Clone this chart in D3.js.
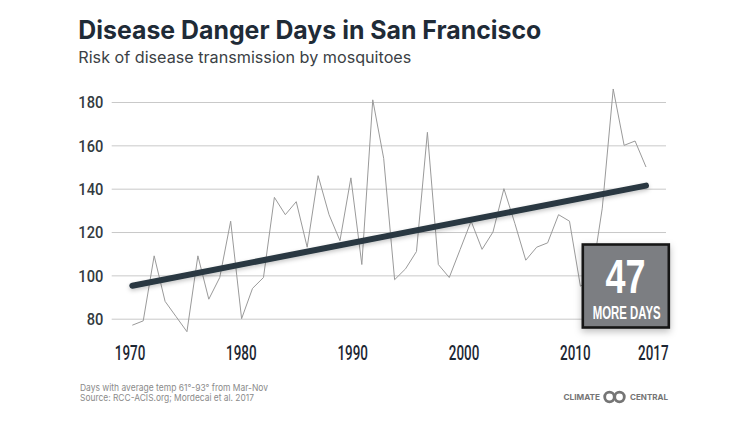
<!DOCTYPE html>
<html>
<head>
<meta charset="utf-8">
<script src="https://cdn.jsdelivr.net/npm/d3@7"></script>
<style>
  html, body { margin: 0; padding: 0; background: #ffffff; }
  svg { display: block; }
</style>
</head>
<body>
<svg id="chart" width="750" height="422"></svg>
<script>
// ---------- DATA ----------
const years = [1970,1971,1972,1973,1974,1975,1976,1977,1978,1979,
               1980,1981,1982,1983,1984,1985,1986,1987,1988,1989,
               1990,1991,1992,1993,1994,1995,1996,1997,1998,1999,
               2000,2001,2002,2003,2004,2005,2006,2007,2008,2009,
               2010,2011,2012,2013,2014,2015,2016,2017];
const dangerDays = [77,79,109,88,81,74,109,89,99,125,
                    80,94,99,136,128,134,113,146,128,116,
                    145,105,181,154,98,103,111,166,105,99,
                    112,125,112,120,140,124,107,113,115,128,
                    125,95,98,131,186,160,162,150];
const trendYears = [1970, 2017];
const trendValues = [95.2, 141.4];
const yTicks = [80, 100, 120, 140, 160, 180];
const xTickLabels = [1970, 1980, 1990, 2000, 2010, 2017];
const title = "Disease Danger Days in San Francisco";
const subtitle = "Risk of disease transmission by mosquitoes";
const badgeNumber = "47";
const badgeText = "MORE DAYS";
const footnotes = ["Days with average temp 61°-93° from Mar-Nov",
                   "Source: RCC-ACIS.org; Mordecai et al. 2017"];
const logoWords = ["CLIMATE", "CENTRAL"];

// ---------- SETUP ----------
const svg = d3.select("#chart");
const defs = svg.append("defs");
const f1 = defs.append("filter").attr("id","lineShadow")
  .attr("x","-10%").attr("y","-50%").attr("width","120%").attr("height","200%");
f1.append("feDropShadow").attr("dx",0).attr("dy",2).attr("stdDeviation",2)
  .attr("flood-color","#000").attr("flood-opacity",0.22);
const f2 = defs.append("filter").attr("id","boxShadow")
  .attr("x","-30%").attr("y","-30%").attr("width","160%").attr("height","160%");
f2.append("feDropShadow").attr("dx",0).attr("dy",3).attr("stdDeviation",3.5)
  .attr("flood-color","#000").attr("flood-opacity",0.25);

const gridLeft = 111.7, gridRight = 666;
const x = d3.scaleLinear().domain([1970, 2017]).range([132.3, 646]);
const xLabel = d3.scaleLinear().domain([1970, 2017]).range([129.5, 652.8]);
const y = d3.scaleLinear().domain([80, 180]).range([318.7, 102]);

// ---------- TITLE ----------
svg.append("text").attr("x", 78.3).attr("y", 39.3)
  .attr("font-family", "Inter, 'Noto Sans', sans-serif")
  .attr("font-weight", 700).attr("font-size", 25.5)
  .attr("fill", "#1f2b37")
  .attr("textLength", 463).attr("lengthAdjust", "spacingAndGlyphs")
  .text(title);
svg.append("text").attr("x", 78.3).attr("y", 63.3)
  .attr("font-family", "Inter, 'Noto Sans', sans-serif")
  .attr("font-weight", 400).attr("font-size", 16)
  .attr("fill", "#3b3f45")
  .attr("textLength", 333).attr("lengthAdjust", "spacingAndGlyphs")
  .text(subtitle);

// ---------- Y AXIS / GRID ----------
const yAxis = svg.append("g")
  .attr("transform", `translate(${gridLeft},0)`)
  .call(d3.axisLeft(y).tickValues(yTicks).tickSize(-(gridRight - gridLeft)).tickPadding(8.4));
yAxis.select(".domain").remove();
yAxis.selectAll(".tick line").attr("stroke", "#c9c9c9").attr("stroke-width", 1);
yAxis.selectAll(".tick text")
  .attr("font-family", "Roboto, sans-serif").attr("font-weight", 500)
  .attr("font-size", 16.4).attr("fill", "#333a40")
  .attr("dy", "5.8px")
  .attr("textLength", d => String(d).length * 8.33)
  .attr("lengthAdjust", "spacingAndGlyphs");

// ---------- X AXIS ----------
const xAxis = svg.append("g")
  .call(d3.axisBottom(xLabel).tickValues(xTickLabels).tickSize(0).tickFormat(d3.format("d")));
xAxis.select(".domain").remove();
xAxis.selectAll(".tick text")
  .attr("y", 360).attr("dy", 0)
  .attr("font-family", "Roboto, sans-serif").attr("font-weight", 500)
  .attr("font-size", 19.7).attr("fill", "#1d2733")
  .attr("textLength", 30.5).attr("lengthAdjust", "spacingAndGlyphs");

// ---------- DATA LINE ----------
const series = years.map((yr, i) => ({ yr, v: dangerDays[i] }));
svg.append("path").datum(series)
  .attr("fill", "none").attr("stroke", "#9a9a9a").attr("stroke-width", 1)
  .attr("stroke-linejoin", "miter")
  .attr("d", d3.line().x(d => x(d.yr)).y(d => y(d.v)));

// ---------- TREND LINE ----------
const trend = trendYears.map((yr, i) => ({ yr, v: trendValues[i] }));
svg.append("path").datum(trend)
  .attr("fill", "none").attr("stroke", "#2a3942").attr("stroke-width", 6)
  .attr("stroke-linecap", "round")
  .attr("filter", "url(#lineShadow)")
  .attr("d", d3.line().x(d => x(d.yr)).y(d => y(d.v)));

// ---------- BADGE ----------
const badge = svg.append("g");
badge.append("rect").attr("x", 582.8).attr("y", 244.5).attr("width", 86).attr("height", 83)
  .attr("fill", "#7b7e82").attr("stroke", "#161616").attr("stroke-width", 2.6)
  .attr("filter", "url(#boxShadow)");
badge.append("text").attr("x", 625.5).attr("y", 292.5).attr("text-anchor", "middle")
  .attr("font-family", "'Liberation Sans', Arial, sans-serif").attr("font-weight", 700)
  .attr("font-size", 49).attr("fill", "#ffffff")
  .attr("textLength", 40).attr("lengthAdjust", "spacingAndGlyphs")
  .text(badgeNumber);
badge.append("text").attr("x", 626.7).attr("y", 319).attr("text-anchor", "middle")
  .attr("font-family", "'Liberation Sans', Arial, sans-serif").attr("font-weight", 700)
  .attr("font-size", 17.5).attr("fill", "#ffffff")
  .attr("textLength", 68).attr("lengthAdjust", "spacingAndGlyphs")
  .text(badgeText);

// ---------- FOOTNOTES ----------
svg.selectAll("text.foot").data(footnotes).join("text")
  .attr("class", "foot")
  .attr("x", 80).attr("y", (d, i) => 390.7 + i * 10)
  .attr("font-family", "Inter, 'Noto Sans', sans-serif")
  .attr("font-size", 9.2).attr("fill", "#8a8a8a")
  .attr("textLength", (d, i) => i === 0 ? 188 : 174)
  .attr("lengthAdjust", "spacingAndGlyphs")
  .text(d => d);

// ---------- LOGO ----------
const logo = svg.append("g");
logo.append("text").attr("x", 563.5).attr("y", 400)
  .attr("font-family", "Inter, sans-serif").attr("font-weight", 700)
  .attr("font-size", 8).attr("fill", "#757575")
  .attr("textLength", 36.5).attr("lengthAdjust", "spacingAndGlyphs")
  .text(logoWords[0]);
logo.append("text").attr("x", 630).attr("y", 400)
  .attr("font-family", "Inter, sans-serif").attr("font-weight", 700)
  .attr("font-size", 8).attr("fill", "#757575")
  .attr("textLength", 38).attr("lengthAdjust", "spacingAndGlyphs")
  .text(logoWords[1]);
logo.selectAll("circle").data([609.5, 619.5]).join("circle")
  .attr("cx", d => d).attr("cy", 397).attr("r", 4.8)
  .attr("fill", "none").attr("stroke", "#757575").attr("stroke-width", 2.8);
</script>
</body>
</html>
